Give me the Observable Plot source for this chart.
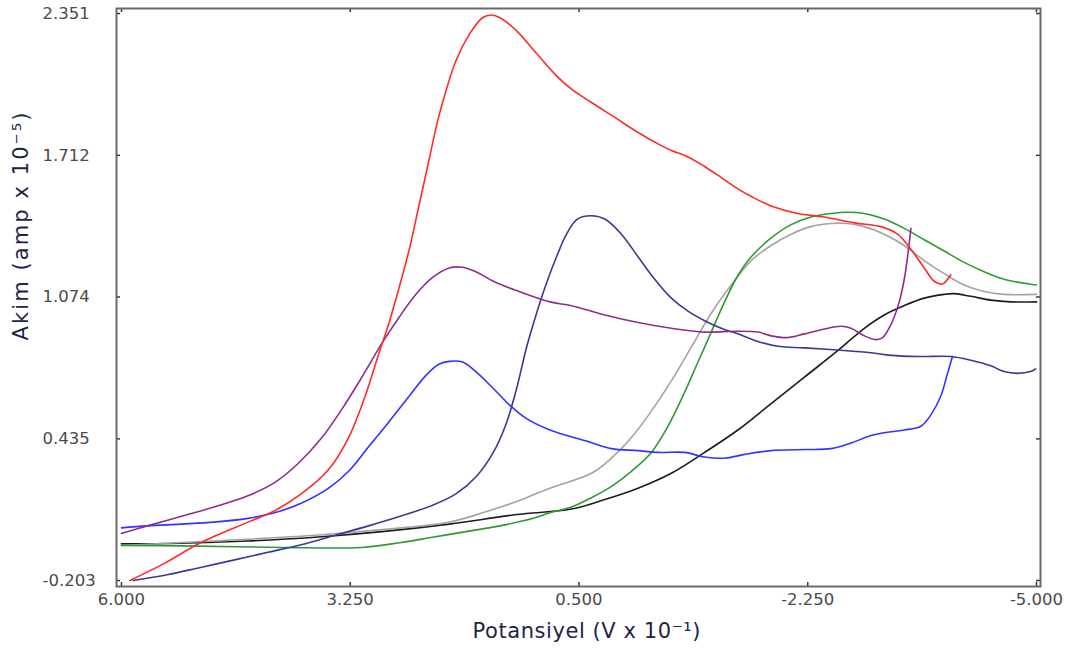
<!DOCTYPE html>
<html><head><meta charset="utf-8">
<script src="https://cdn.jsdelivr.net/npm/d3@7"></script>
<script src="https://cdn.jsdelivr.net/npm/@observablehq/plot@0.6"></script>
<style>
html,body{margin:0;padding:0;background:#fff;}
</style>
</head><body>
<div id="chart"></div>
<script>
const xTicks = [6.0, 3.25, 0.5, -2.25, -5.0];
const yTicks = [-0.203, 0.435, 1.074, 1.712, 2.351];
const xTitle = "Potansiyel (V x 10⁻¹)";
const yTitle = "Akim (amp x 10⁻⁵)";

const redV = [5.90, 5.49, 5.05, 4.48, 4.16, 3.84, 3.51, 3.27, 3.07, 2.91, 2.79, 2.66, 2.54, 2.42, 2.30, 2.20, 2.10, 1.98, 1.82, 1.66, 1.55, 1.45, 1.25, 1.01, 0.77, 0.59, 0.35, 0.07, -0.21, -0.49, -0.61, -0.81, -1.01, -1.21, -1.41, -1.57, -1.81, -2.13, -2.45, -2.81, -3.13, -3.33, -3.49, -3.65, -3.77, -3.87, -3.97];
const redI = [-0.203, -0.127, -0.033, 0.060, 0.111, 0.187, 0.297, 0.441, 0.628, 0.815, 0.950, 1.120, 1.289, 1.493, 1.696, 1.866, 2.002, 2.137, 2.256, 2.332, 2.344, 2.332, 2.273, 2.171, 2.070, 2.010, 1.950, 1.883, 1.815, 1.756, 1.734, 1.705, 1.662, 1.612, 1.561, 1.527, 1.484, 1.450, 1.434, 1.408, 1.391, 1.357, 1.289, 1.205, 1.145, 1.133, 1.174];

const purpleV = [6.00, 5.69, 5.29, 4.89, 4.48, 4.16, 3.88, 3.59, 3.35, 3.11, 2.87, 2.66, 2.46, 2.26, 2.06, 1.90, 1.74, 1.53, 1.25, 0.85, 0.59, 0.19, -0.21, -0.61, -1.01, -1.41, -1.65, -1.81, -2.01, -2.21, -2.45, -2.65, -2.77, -2.93, -3.07, -3.15, -3.25, -3.35, -3.41, -3.45, -3.49];
const purpleI = [0.009, 0.043, 0.085, 0.128, 0.179, 0.238, 0.323, 0.441, 0.569, 0.713, 0.865, 0.984, 1.086, 1.162, 1.205, 1.208, 1.188, 1.145, 1.103, 1.052, 1.035, 0.993, 0.959, 0.933, 0.916, 0.920, 0.916, 0.899, 0.891, 0.908, 0.930, 0.942, 0.933, 0.899, 0.882, 0.891, 0.950, 1.052, 1.154, 1.255, 1.383];

const blueV = [6.00, 5.69, 5.29, 4.89, 4.48, 4.16, 3.84, 3.51, 3.27, 3.03, 2.79, 2.54, 2.34, 2.18, 2.06, 1.90, 1.74, 1.53, 1.33, 1.13, 0.85, 0.40, 0.11, -0.21, -0.45, -0.77, -1.01, -1.25, -1.49, -1.81, -2.21, -2.53, -2.77, -3.01, -3.25, -3.41, -3.61, -3.73, -3.85, -3.93, -3.99];
const blueI = [0.034, 0.043, 0.051, 0.060, 0.077, 0.102, 0.145, 0.213, 0.289, 0.399, 0.509, 0.628, 0.721, 0.772, 0.784, 0.781, 0.738, 0.662, 0.586, 0.526, 0.475, 0.424, 0.391, 0.382, 0.374, 0.374, 0.353, 0.348, 0.365, 0.382, 0.387, 0.391, 0.416, 0.450, 0.467, 0.475, 0.492, 0.543, 0.628, 0.730, 0.806];

const navyV = [5.86, 5.45, 5.05, 4.64, 4.24, 3.84, 3.43, 3.03, 2.66, 2.26, 1.98, 1.74, 1.53, 1.37, 1.25, 1.13, 1.01, 0.89, 0.77, 0.65, 0.52, 0.35, 0.19, -0.01, -0.21, -0.41, -0.61, -0.81, -1.01, -1.21, -1.41, -1.65, -1.89, -2.21, -2.61, -3.01, -3.25, -3.61, -3.97, -4.21, -4.45, -4.61, -4.77, -4.93, -4.99];
const navyI = [-0.203, -0.177, -0.144, -0.110, -0.076, -0.042, 0.001, 0.043, 0.085, 0.136, 0.187, 0.263, 0.374, 0.509, 0.662, 0.848, 1.001, 1.137, 1.255, 1.357, 1.425, 1.440, 1.425, 1.357, 1.255, 1.154, 1.069, 1.010, 0.967, 0.933, 0.908, 0.874, 0.852, 0.845, 0.835, 0.823, 0.811, 0.806, 0.806, 0.789, 0.764, 0.738, 0.730, 0.738, 0.750];

const grayV = [6.00, 4.89, 3.67, 2.87, 2.06, 1.66, 1.25, 0.85, 0.35, 0.11, -0.13, -0.37, -0.61, -0.85, -1.09, -1.33, -1.57, -1.81, -2.05, -2.29, -2.53, -2.73, -2.93, -3.17, -3.41, -3.65, -3.89, -4.13, -4.37, -4.61, -5.00];
const grayI = [-0.045, -0.025, 0.001, 0.026, 0.060, 0.102, 0.153, 0.213, 0.280, 0.348, 0.441, 0.560, 0.696, 0.848, 1.001, 1.128, 1.238, 1.306, 1.357, 1.391, 1.405, 1.405, 1.391, 1.357, 1.306, 1.238, 1.179, 1.128, 1.099, 1.086, 1.086];

const greenV = [6.00, 5.29, 4.08, 3.11, 2.66, 2.26, 1.86, 1.45, 1.05, 0.85, 0.59, 0.35, 0.11, -0.13, -0.37, -0.57, -0.77, -0.93, -1.09, -1.25, -1.41, -1.57, -1.81, -2.05, -2.29, -2.53, -2.73, -2.93, -3.17, -3.41, -3.65, -3.89, -4.13, -4.37, -4.61, -5.00];
const greenI = [-0.045, -0.047, -0.054, -0.054, -0.033, -0.008, 0.017, 0.043, 0.077, 0.102, 0.128, 0.170, 0.221, 0.289, 0.374, 0.492, 0.645, 0.781, 0.916, 1.052, 1.171, 1.255, 1.340, 1.400, 1.434, 1.450, 1.456, 1.450, 1.425, 1.383, 1.332, 1.281, 1.230, 1.188, 1.154, 1.128];

const blackV = [6.00, 5.29, 4.48, 3.67, 2.87, 2.06, 1.25, 0.59, 0.19, -0.21, -0.61, -1.01, -1.41, -1.81, -2.21, -2.61, -2.93, -3.17, -3.41, -3.65, -3.89, -4.01, -4.21, -4.45, -4.69, -5.00];
const blackI = [-0.038, -0.035, -0.025, -0.008, 0.017, 0.051, 0.094, 0.119, 0.162, 0.213, 0.280, 0.374, 0.475, 0.594, 0.713, 0.832, 0.933, 0.993, 1.035, 1.069, 1.086, 1.089, 1.077, 1.060, 1.052, 1.052];

const series = [
  {name: "black", color: "#1c1c1c", v: blackV, i: blackI},
  {name: "gray", color: "#a3a3a3", v: grayV, i: grayI},
  {name: "green", color: "#2f9a35", v: greenV, i: greenI},
  {name: "navy", color: "#3a3a8e", v: navyV, i: navyI},
  {name: "blue", color: "#3333ff", v: blueV, i: blueI},
  {name: "purple", color: "#8c2f8c", v: purpleV, i: purpleI},
  {name: "red", color: "#ff2a2a", v: redV, i: redI}
];

const W = 1074, H = 651;
const mL = 116, mR = 34, mT = 8, mB = 65;
const fw = W - mL - mR, fh = H - mT - mB;
const fmt = d => d.toFixed(3);

const marks = [];
for (const s of series) {
  const rows = s.v.map((v, k) => ({v, i: s.i[k]}));
  marks.push(Plot.line(rows, {x: "v", y: "i", stroke: s.color, strokeWidth: 1.6, curve: "catmull-rom"}));
}

const chart = Plot.plot({
  width: W, height: H,
  marginLeft: mL, marginRight: mR, marginTop: mT, marginBottom: mB,
  style: {fontFamily: "DejaVu Sans", fontSize: "16.5px", background: "#fff", color: "#4a4a4a"},
  x: {domain: [6.06, -5.048], ticks: xTicks, tickFormat: fmt},
  y: {domain: [-0.230, 2.3735], ticks: yTicks, tickFormat: fmt},
  marks: [
    Plot.axisX(xTicks, {tickSize: 0, tickPadding: 7, tickFormat: fmt, label: null, fill: "#4a4a4a"}),
    Plot.axisY(yTicks, {tickSize: 0, tickPadding: 0, textAnchor: "start", dx: -74, tickFormat: fmt, label: null, fill: "#4a4a4a"}),
    ...marks,
    Plot.ruleX(xTicks, {x: d => d, insetTop: fh - 4, stroke: "#333", strokeWidth: 1.5}),
    Plot.ruleX(xTicks, {x: d => d, insetBottom: fh - 4, stroke: "#333", strokeWidth: 1.5}),
    Plot.ruleY(yTicks, {y: d => d, insetRight: fw - 4, stroke: "#333", strokeWidth: 1.5}),
    Plot.ruleY(yTicks, {y: d => d, insetLeft: fw - 4, stroke: "#333", strokeWidth: 1.5}),
    Plot.frame({stroke: "#6a6a6a", strokeWidth: 2}),
    Plot.text([xTitle], {text: d => d, frameAnchor: "bottom", textAnchor: "middle", dy: 51, dx: 8, fontSize: 21, fill: "#23234a"}),
    Plot.text([yTitle], {text: d => d, frameAnchor: "left", textAnchor: "middle", rotate: -90, dx: -95, dy: -71, fontSize: 21, fill: "#23234a"})
  ]
});
d3.select(chart).selectAll("text").filter(function() { return this.textContent === xTitle; })
  .attr("textLength", 228).attr("lengthAdjust", "spacing");
d3.select(chart).selectAll("text").filter(function() { return this.textContent === yTitle; })
  .attr("textLength", 228).attr("lengthAdjust", "spacing");
document.getElementById("chart").appendChild(chart);
</script>
</body></html>
